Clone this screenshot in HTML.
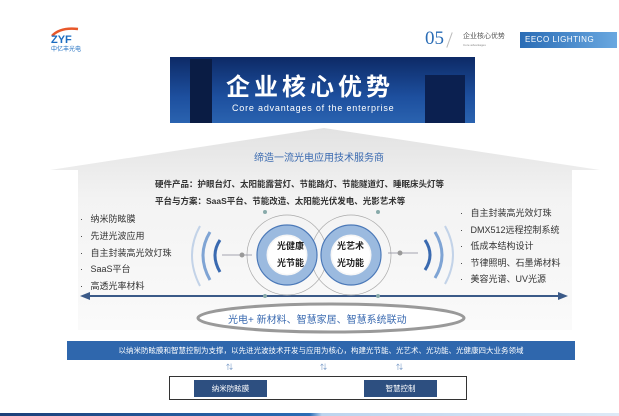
<!DOCTYPE html>
<html><head><meta charset="utf-8"><style>
body{margin:0;width:619px;height:416px;background:#fff;position:relative;overflow:hidden;font-family:"Liberation Sans","Noto Sans CJK SC",sans-serif}
.a{position:absolute;white-space:nowrap}
.b{font-size:9px;color:#333}
</style></head><body>
<!-- logo -->
<svg class="a" style="left:48px;top:26px" width="40" height="24"><path d="M4 10 Q12 1 30 3" stroke="#e8582a" stroke-width="2.5" fill="none"/><text x="3" y="17" font-size="11" font-weight="bold" fill="#1b6cc0" font-family="Liberation Sans">ZYF</text></svg>
<div class="a" style="left:51px;top:44px;font-size:6px;color:#1b6cc0">中亿丰光电</div>
<div class="a" style="left:425px;top:28px;font-family:'Liberation Serif',serif;font-size:19px;color:#2a6cb5">05</div>
<div class="a" style="left:449px;top:32px;width:1px;height:16px;background:#bbb;transform:rotate(20deg)"></div>
<div class="a" style="left:463px;top:31px;font-size:7px;color:#555">企业核心优势</div>
<div class="a" style="left:463px;top:43px;font-size:3px;color:#888">Core advantages</div>
<div class="a" style="left:520px;top:32px;width:97px;height:16px;background:linear-gradient(90deg,#2a6cb5,#6aa8e0);color:#fff;font-size:8px;line-height:16px;padding-left:5px;box-sizing:border-box;letter-spacing:.5px">EECO LIGHTING</div>
<!-- banner -->
<div class="a" style="left:170px;top:57px;width:305px;height:66px;background:linear-gradient(180deg,#0d2a66,#1d4f9e 60%,#2a63b0);overflow:hidden">
<div class="a" style="left:20px;top:2px;width:22px;height:64px;background:#0a1c44"></div>
<div class="a" style="left:255px;top:18px;width:40px;height:48px;background:#0b2050"></div>
<div class="a" style="left:56px;top:10px;font-size:24px;font-weight:bold;color:#fff;letter-spacing:4px">企业核心优势</div>
<div class="a" style="left:62px;top:46px;font-size:9px;color:#fff;letter-spacing:.8px">Core advantages of the enterprise</div></div>
<!-- house -->
<svg class="a" style="left:0;top:0" width="619" height="416">
<defs><linearGradient id="g" x1="0" y1="0" x2="0" y2="1"><stop offset="0" stop-color="#e2e2e2"/><stop offset=".35" stop-color="#f3f3f3"/><stop offset="1" stop-color="#fafafa"/></linearGradient></defs>
<polygon points="324,128 600,170 572,170 572,330 78,330 78,170 50,170" fill="url(#g)"/>
<line x1="85" y1="296" x2="562" y2="296" stroke="#3b5a88" stroke-width="2"/>
<polygon points="80,296 90,292 90,300" fill="#3b5a88"/>
<polygon points="568,296 558,292 558,300" fill="#3b5a88"/>
<ellipse cx="331" cy="318" rx="133" ry="14" fill="#fff" stroke="#999" stroke-width="3"/>
<!-- circles -->
<circle cx="287" cy="255" r="40" fill="none" stroke="#aaa" stroke-width=".7"/>
<circle cx="351" cy="255" r="40" fill="none" stroke="#aaa" stroke-width=".7"/>
<circle cx="287" cy="255" r="25" fill="none" stroke="#9bbadf" stroke-width="9"/>
<circle cx="351" cy="255" r="25" fill="none" stroke="#9bbadf" stroke-width="9"/>
<circle cx="287" cy="255" r="30" fill="none" stroke="#4a78b8" stroke-width="1.2"/>
<circle cx="351" cy="255" r="30" fill="none" stroke="#4a78b8" stroke-width="1.2"/>
<circle cx="287" cy="255" r="19" fill="#fff"/><circle cx="351" cy="255" r="19" fill="#fff"/>
<circle cx="265" cy="212" r="2" fill="#8aa"/><circle cx="378" cy="212" r="2" fill="#8aa"/>
<circle cx="265" cy="296" r="2" fill="#8aa"/><circle cx="378" cy="296" r="2" fill="#8aa"/>
<line x1="222" y1="255" x2="252" y2="255" stroke="#889" stroke-width=".8"/><circle cx="242" cy="255" r="2.5" fill="#999"/>
<line x1="388" y1="253" x2="418" y2="253" stroke="#889" stroke-width=".8"/><circle cx="400" cy="253" r="2.5" fill="#999"/>
<path d="M220 240 Q210 255 220 272" stroke="#3a6ab0" stroke-width="3" fill="none"/>
<path d="M210 232 Q196 255 210 280" stroke="#7fa4d4" stroke-width="3" fill="none"/>
<path d="M200 226 Q184 255 200 286" stroke="#c3d3e8" stroke-width="2" fill="none"/>
<path d="M425 240 Q435 255 425 270" stroke="#3a6ab0" stroke-width="3" fill="none"/>
<path d="M435 232 Q449 255 435 278" stroke="#7fa4d4" stroke-width="3" fill="none"/>
<path d="M445 226 Q461 255 445 284" stroke="#c3d3e8" stroke-width="2" fill="none"/>
</svg>
<div class="a" style="left:254px;top:149px;font-size:10px;color:#3a6ab0">缔造一流光电应用技术服务商</div>
<div class="a b" style="left:155px;top:178px;font-weight:bold;font-size:8.5px">硬件产品：护眼台灯、太阳能露营灯、节能路灯、节能隧道灯、睡眠床头灯等</div>
<div class="a b" style="left:155px;top:195px;font-weight:bold;font-size:8.5px">平台与方案：SaaS平台、节能改造、太阳能光伏发电、光影艺术等</div>
<div class="a b" style="left:80px;top:211px;line-height:16.8px">·&nbsp;&nbsp; 纳米防眩膜<br>·&nbsp;&nbsp; 先进光波应用<br>·&nbsp;&nbsp; 自主封装高光效灯珠<br>·&nbsp;&nbsp; SaaS平台<br>·&nbsp;&nbsp; 高透光率材料</div>
<div class="a b" style="left:460px;top:205px;line-height:16.6px">·&nbsp;&nbsp; 自主封装高光效灯珠<br>·&nbsp;&nbsp; DMX512远程控制系统<br>·&nbsp;&nbsp; 低成本结构设计<br>·&nbsp;&nbsp; 节律照明、石墨烯材料<br>·&nbsp;&nbsp; 美容光谱、UV光源</div>
<div class="a" style="left:277px;top:238px;font-size:9px;font-weight:bold;color:#222;line-height:17px">光健康<br>光节能</div>
<div class="a" style="left:337px;top:238px;font-size:9px;font-weight:bold;color:#222;line-height:17px">光艺术<br>光功能</div>
<div class="a" style="left:228px;top:311px;font-size:10px;color:#3a6ab0">光电+ 新材料、智慧家居、智慧系统联动</div>
<div class="a" style="left:67px;top:341px;width:508px;height:19px;background:#2f67ad;color:#fff;font-size:7.5px;line-height:19px;text-align:center">以纳米防眩膜和智慧控制为支撑，以先进光波技术开发与应用为核心，构建光节能、光艺术、光功能、光健康四大业务领域</div>
<div class="a" style="left:226px;top:362px;font-size:7px;color:#6a8fc0">⇅</div>
<div class="a" style="left:320px;top:362px;font-size:7px;color:#6a8fc0">⇅</div>
<div class="a" style="left:396px;top:362px;font-size:7px;color:#6a8fc0">⇅</div>
<div class="a" style="left:169px;top:376px;width:298px;height:24px;border:1px solid #333;box-sizing:border-box"></div>
<div class="a" style="left:194px;top:380px;width:73px;height:17px;background:#2d4f80;color:#fff;font-size:7.5px;line-height:17px;text-align:center">纳米防眩膜</div>
<div class="a" style="left:364px;top:380px;width:73px;height:17px;background:#2d4f80;color:#fff;font-size:7.5px;line-height:17px;text-align:center">智慧控制</div>
<div class="a" style="left:0;top:413px;width:619px;height:3px;background:linear-gradient(90deg,#1c3f78,#2a6cb5 50%,#bcd4ee 52%,#dde9f6)"></div>
</body></html>
